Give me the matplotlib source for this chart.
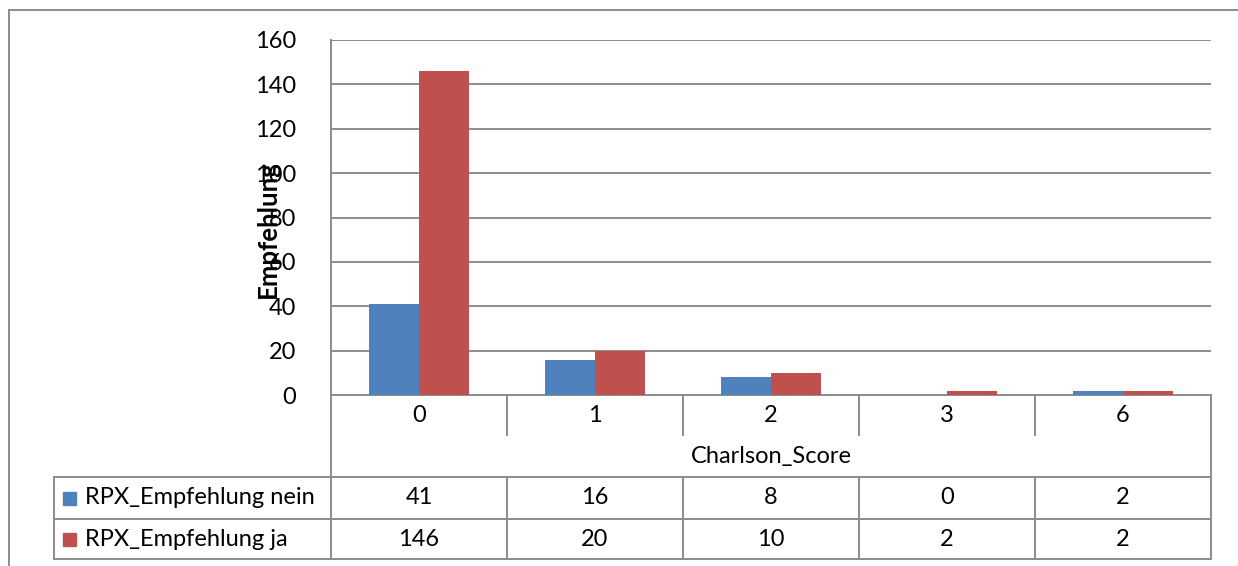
import matplotlib
matplotlib.use("Agg")
import matplotlib.pyplot as plt
from matplotlib.lines import Line2D
from matplotlib.patches import Rectangle
from matplotlib.transforms import blended_transform_factory
import numpy as np

categories = ["0", "1", "2", "3", "6"]
series_names = ["RPX_Empfehlung nein", "RPX_Empfehlung ja"]
nein_values = [41, 16, 8, 0, 2]
ja_values = [146, 20, 10, 2, 2]
series_values = [nein_values, ja_values]
series_colors = ["#4F81BD", "#C0504D"]
y_ticks = [0, 20, 40, 60, 80, 100, 120, 140, 160]
x_title = "Charlson_Score"
y_title = "Empfehlung"

W, H = 1238, 566
plt.rcParams["font.family"] = ["Lato", "DejaVu Sans"]
fig = plt.figure(figsize=(W / 100, H / 100), dpi=100)


def fx(px):
    return px / W


def fy(py):
    return 1 - py / H


grid_c = "#8C8C8C"
lw = 1.4
fs = 17

# plot area
left, right, top, bottom = 331, 1211, 40, 395
ax = fig.add_axes([fx(left), fy(bottom), fx(right - left), (bottom - top) / H])
n = len(categories)
x = np.arange(n)
bw = 50 / 176
ax.bar(x - bw / 2, nein_values, width=bw, color=series_colors[0], zorder=3)
ax.bar(x + bw / 2, ja_values, width=bw, color=series_colors[1], zorder=3)
ax.set_xlim(-0.5, n - 0.5)
ax.set_ylim(0, 160)
ax.set_yticks(y_ticks)
ax.set_yticklabels([str(t) for t in y_ticks], fontsize=fs)
ax.tick_params(axis="y", length=0, pad=25)
ax.set_xticks([])
ax.yaxis.grid(True, color=grid_c, linewidth=lw, zorder=1)
for s in ["top", "right"]:
    ax.spines[s].set_visible(False)
for s in ["left", "bottom"]:
    ax.spines[s].set_color(grid_c)
    ax.spines[s].set_linewidth(lw)
ax.set_axisbelow(True)

fig.text(fx(268), fy(229), y_title, rotation=90, fontsize=18.5, fontweight="bold",
         ha="center", va="center")

# data table below the axis
tr = blended_transform_factory(ax.transData, fig.transFigure)
x_edges = np.arange(n + 1) - 0.5
table_left = -0.5 - (left - 54) / 176
row_tops = [477, 519, 559]


def hline(x0, x1, py):
    fig.add_artist(Line2D([x0, x1], [fy(py), fy(py)], transform=tr, color=grid_c, lw=lw))


def vline(xd, py0, py1):
    fig.add_artist(Line2D([xd, xd], [fy(py0), fy(py1)], transform=tr, color=grid_c, lw=lw))


# category separators and labels
for xe in x_edges[1:-1]:
    vline(xe, bottom, 435)
vline(x_edges[0], bottom, row_tops[-1])
vline(x_edges[-1], bottom, row_tops[-1])
for i, c in enumerate(categories):
    fig.text(i, fy(415), c, transform=tr, fontsize=fs, ha="center", va="center")
fig.text((x_edges[0] + x_edges[-1]) / 2, fy(456), x_title, transform=tr,
         fontsize=fs, ha="center", va="center")

for py in row_tops:
    hline(table_left, x_edges[-1], py)
vline(table_left, row_tops[0], row_tops[-1])
for xe in x_edges[1:-1]:
    vline(xe, row_tops[0], row_tops[-1])

row_centers = [498, 539]
for r, (name, vals, col) in enumerate(zip(series_names, series_values, series_colors)):
    yc = row_centers[r]
    fig.add_artist(Rectangle((fx(63), fy(yc + 6.5)), 13 / W, 13 / H,
                             transform=fig.transFigure, color=col))
    fig.text(fx(85), fy(yc), name, fontsize=fs, ha="left", va="center")
    for i, v in enumerate(vals):
        fig.text(i, fy(yc), str(v), transform=tr, fontsize=fs, ha="center", va="center")

# chart frame (top and left edges visible)
fig.add_artist(Line2D([fx(9), 1], [fy(10), fy(10)], transform=fig.transFigure, color=grid_c, lw=lw))
fig.add_artist(Line2D([fx(9), fx(9)], [fy(10), 0], transform=fig.transFigure, color=grid_c, lw=lw))

fig.savefig("out.png", dpi=100)
